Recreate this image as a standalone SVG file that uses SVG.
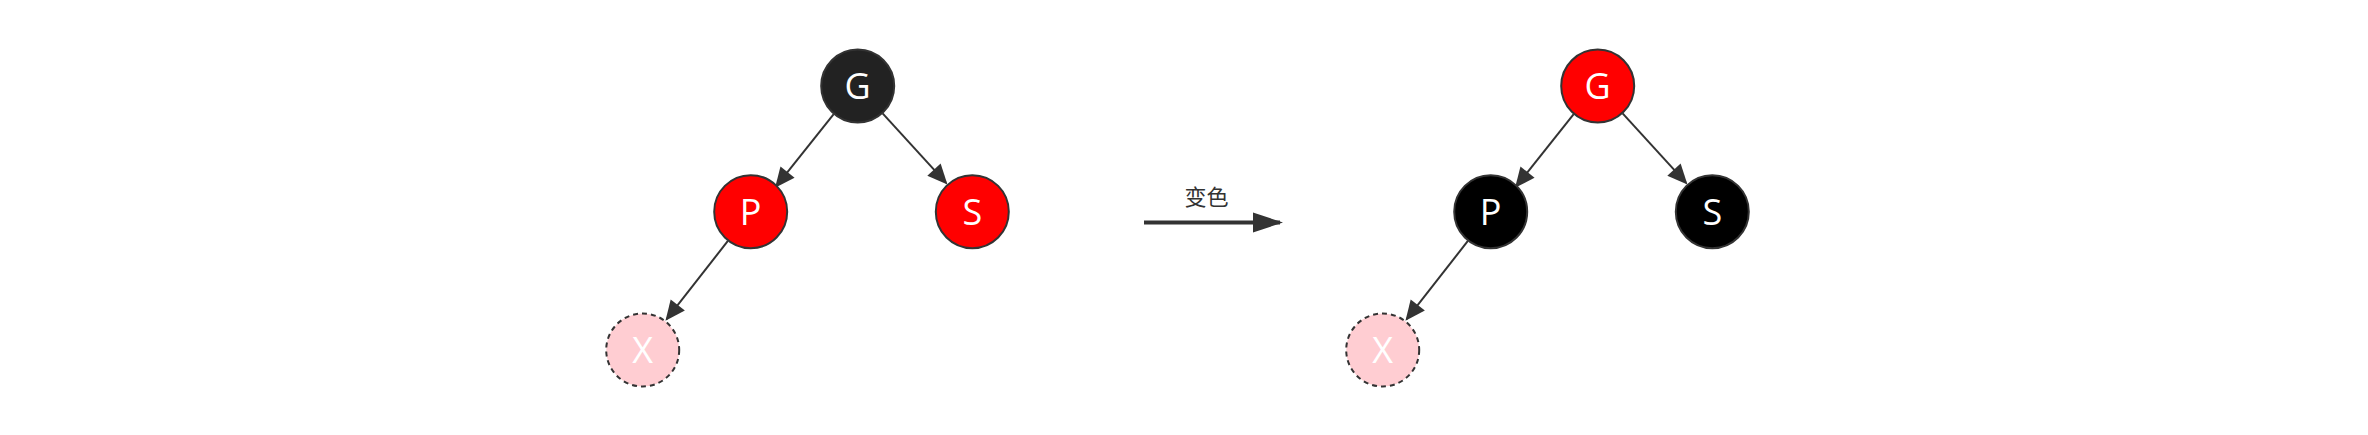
<svg xmlns="http://www.w3.org/2000/svg" width="2368" height="435" viewBox="0 0 2368 435">
<style>
.node{stroke:#333333;stroke-width:2}
.red{fill:#FF0000}
.dark{fill:#222222}
.black{fill:#000000}
.nil{fill:#FFCDD2;stroke:#333333;stroke-width:2;stroke-dasharray:5 4}
.lbl{font-family:"Open Sans","Noto Sans",sans-serif;font-size:36px;fill:#FFFFFF;text-anchor:middle}
.edge{stroke:#333333;stroke-width:2;fill:none}
.big{stroke:#333333;stroke-width:4;fill:none}
.cap{font-family:"Noto Sans CJK SC","Noto Sans",sans-serif;font-size:22px;fill:#333333;text-anchor:middle}
</style>
<defs>
<marker id="ah" markerUnits="userSpaceOnUse" markerWidth="22" markerHeight="20" refX="18" refY="9" orient="auto" overflow="visible">
<path d="M0,0 L20,9 L0,18 Z" fill="#333333"/>
</marker>
<marker id="bh" markerUnits="userSpaceOnUse" markerWidth="32" markerHeight="22" refX="27" refY="10" orient="auto" overflow="visible">
<path d="M0,0 L30,10 L0,20 Z" fill="#333333"/>
</marker>
</defs>
<rect width="2368" height="435" fill="#FFFFFF"/>
<g id="connectors">
<line class="edge" x1="833.7" y1="114.2" x2="776.3" y2="186.2" marker-end="url(#ah)"/>
<line class="edge" x1="882.6" y1="113.3" x2="946.1" y2="182.9" marker-end="url(#ah)"/>
<line class="edge" x1="727.9" y1="240.9" x2="666.7" y2="319.2" marker-end="url(#ah)"/>
<line class="edge" x1="1573.7" y1="114.2" x2="1516.3" y2="186.2" marker-end="url(#ah)"/>
<line class="edge" x1="1622.6" y1="113.3" x2="1686.1" y2="182.9" marker-end="url(#ah)"/>
<line class="edge" x1="1467.9" y1="240.9" x2="1406.7" y2="319.2" marker-end="url(#ah)"/>
<line class="big" x1="1144" y1="222.5" x2="1280" y2="222.5" marker-end="url(#bh)"/>
<text class="cap" x="1206.5" y="205">变色</text>
</g>
<g id="node-G1"><circle class="node dark" cx="857.7" cy="86" r="36.5"/><text class="lbl" x="857.7" y="99">G</text></g>
<g id="node-P1"><circle class="node red" cx="750.7" cy="211.7" r="36.5"/><text class="lbl" x="750.7" y="224.7">P</text></g>
<g id="node-S1"><circle class="node red" cx="972.3" cy="211.7" r="36.5"/><text class="lbl" x="972.3" y="224.7">S</text></g>
<g id="node-X1"><circle class="nil" cx="642.7" cy="350" r="36.5"/><text class="lbl" x="642.7" y="363">X</text></g>
<g id="node-G2"><circle class="node red" cx="1597.7" cy="86" r="36.5"/><text class="lbl" x="1597.7" y="99">G</text></g>
<g id="node-P2"><circle class="node black" cx="1490.7" cy="211.7" r="36.5"/><text class="lbl" x="1490.7" y="224.7">P</text></g>
<g id="node-S2"><circle class="node black" cx="1712.3" cy="211.7" r="36.5"/><text class="lbl" x="1712.3" y="224.7">S</text></g>
<g id="node-X2"><circle class="nil" cx="1382.7" cy="350" r="36.5"/><text class="lbl" x="1382.7" y="363">X</text></g>
</svg>
